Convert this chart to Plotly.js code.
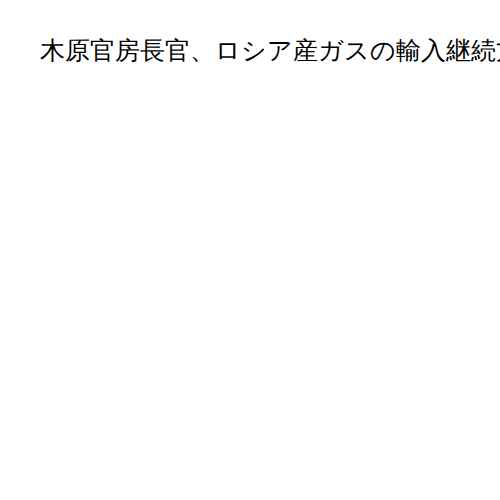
<!DOCTYPE html>
<html>
<head>
<meta charset="utf-8">
<script src="https://cdn.plot.ly/plotly-3.0.1.min.js"></script>
<style>body{margin:0}</style>
</head>
<body>
<div id="chart" style="width:500px;height:500px"></div>
<script>
  // no data visible in the picture, only the title
  var labels = [];
  var values = [];
  var titleText = "木原官房長官、ロシア産ガスの輸入継続方針";

  var data = [
    {
      type: "scatter",
      mode: "lines",
      x: labels,
      y: values
    }
  ];
  var layout = {
    width: 500,
    height: 500,
    title: {
      text: titleText,
      x: 0.08, xanchor: "left",
      y: 0.9, yanchor: "middle",
      font: { size: 25, color: "#000", family: "'Times New Roman', serif" }
    },
    xaxis: { visible: false },
    yaxis: { visible: false },
    showlegend: false,
    paper_bgcolor: "#fff",
    plot_bgcolor: "#fff"
  };
  Plotly.newPlot('chart', data, layout, { displayModeBar: false });
</script>
</body>
</html>
